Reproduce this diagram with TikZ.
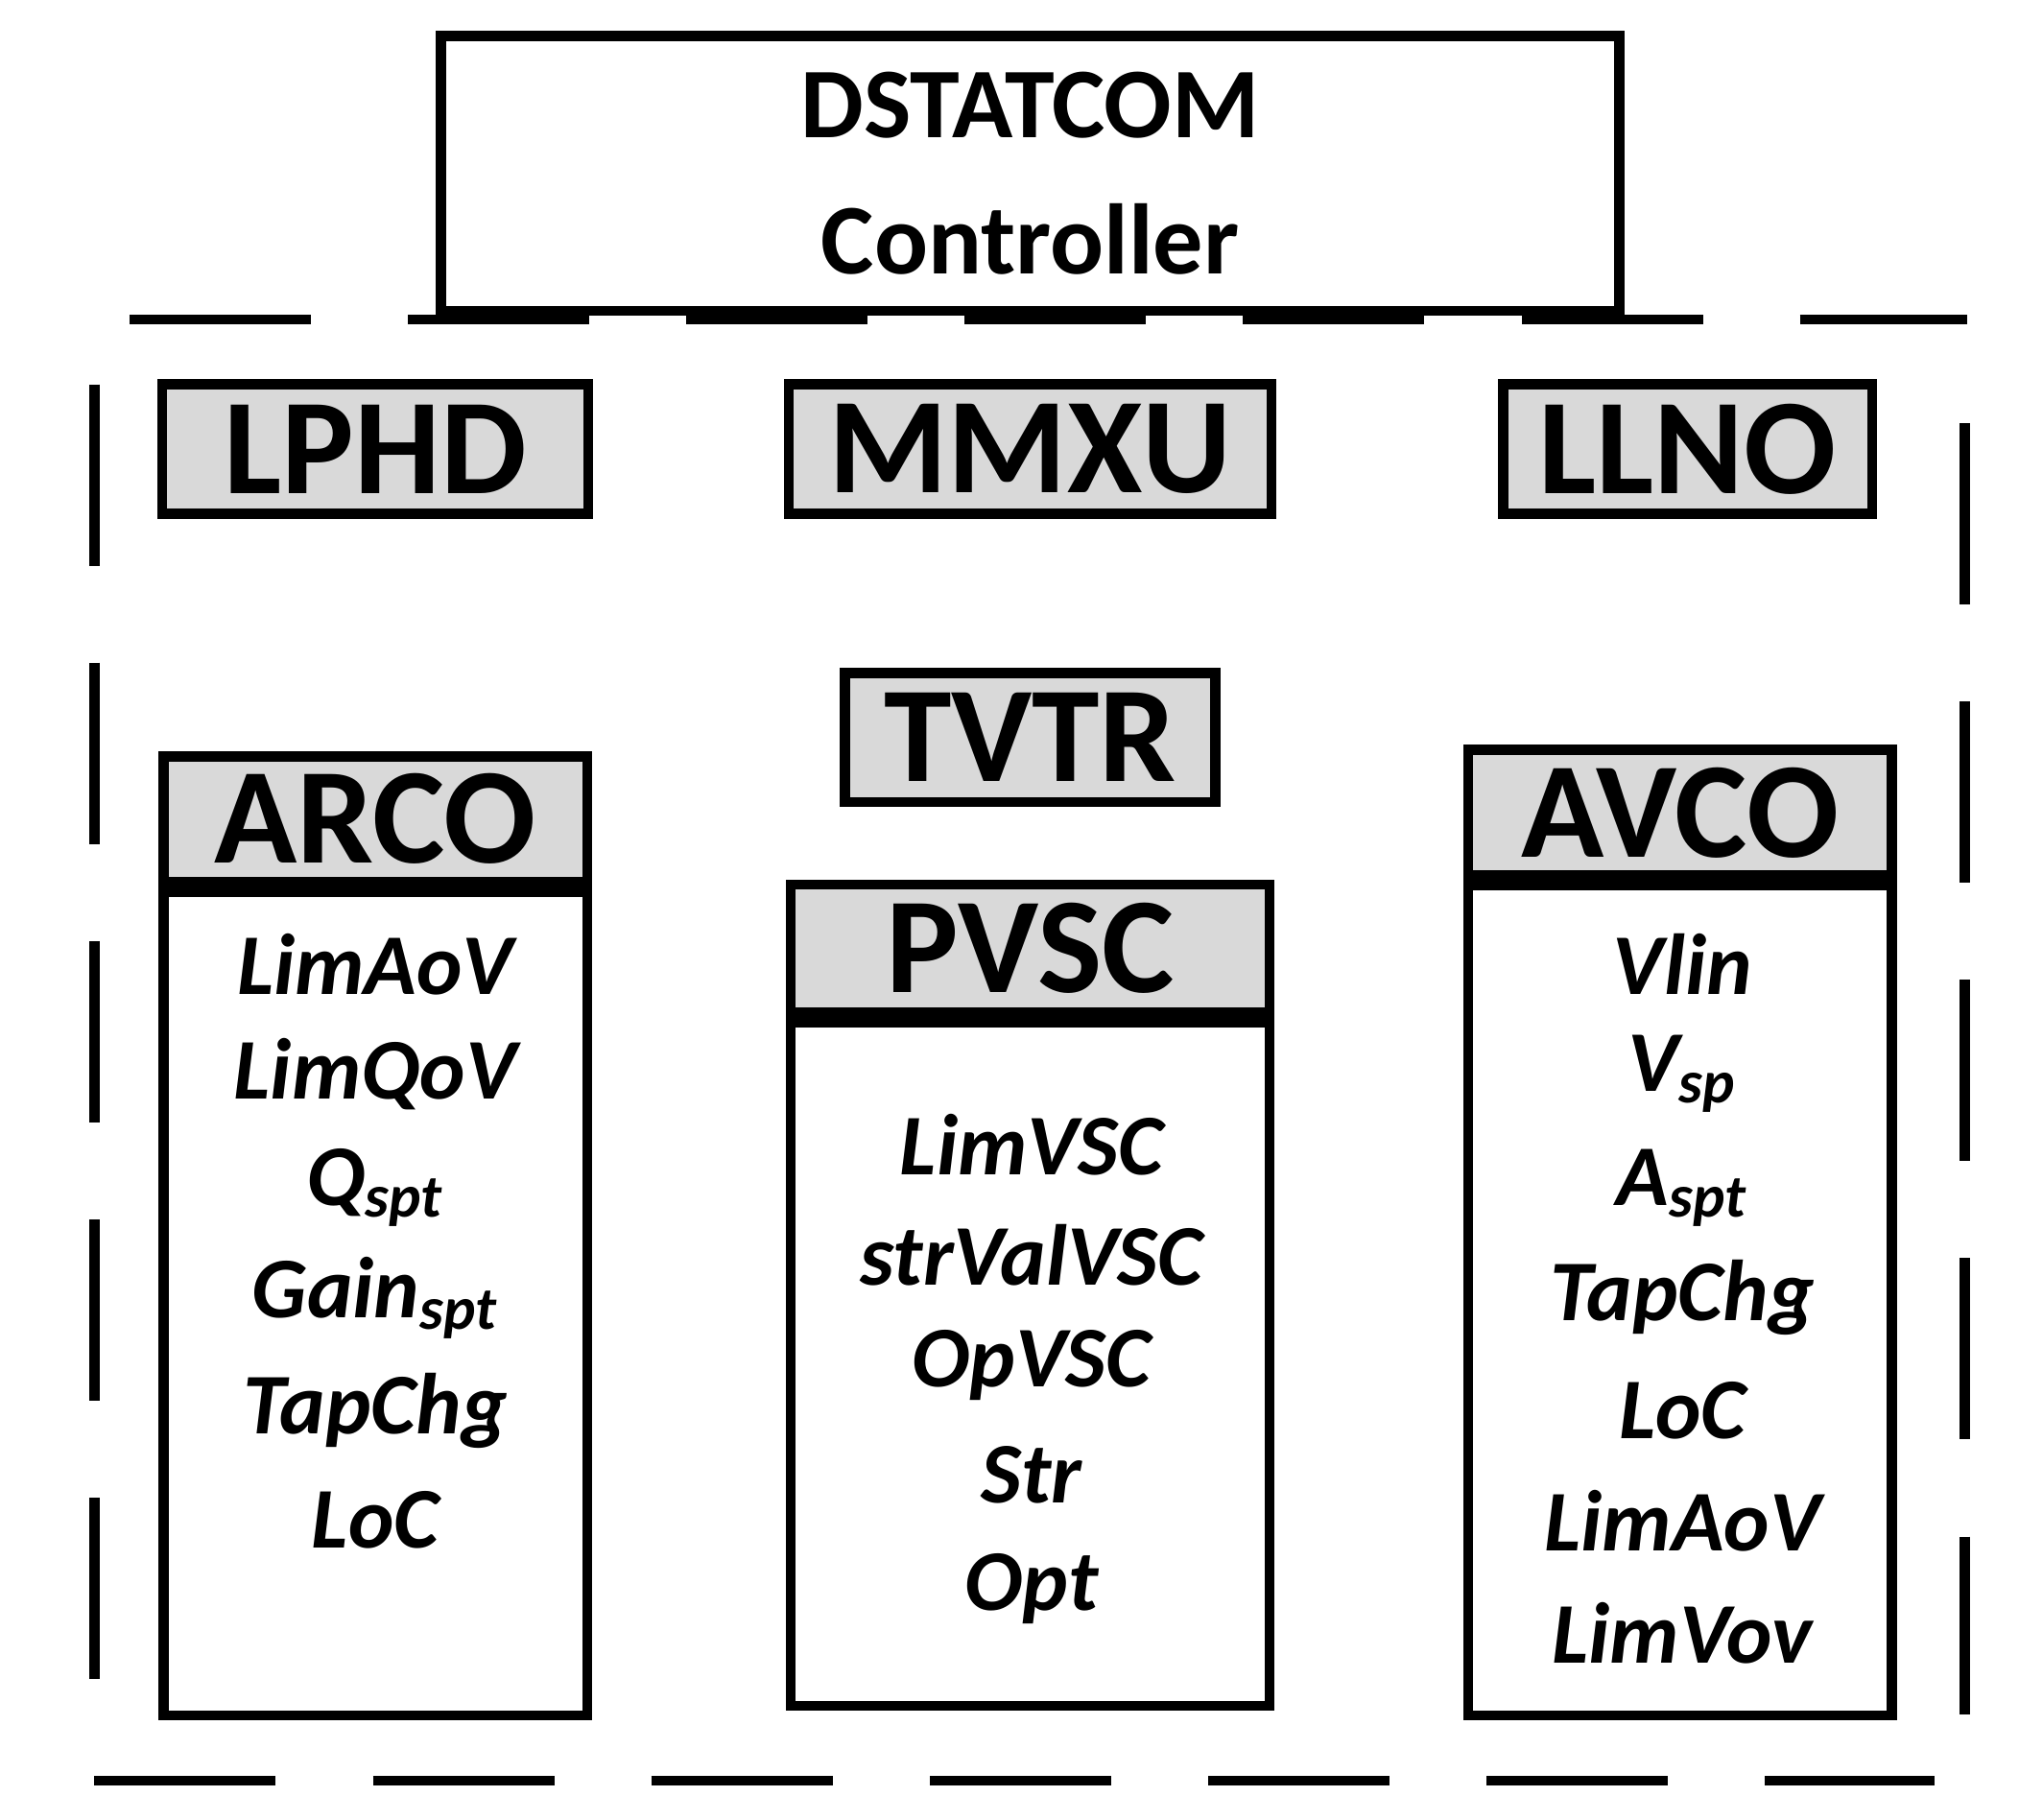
\documentclass[tikz,border=0pt]{standalone}
\usepackage{fontspec}
\setmainfont{Carlito}
\usetikzlibrary{positioning}

\begin{document}
\begin{tikzpicture}[
    x=0.01cm,y=-0.01cm,
    box/.style={rectangle,draw=black,line width=2.2pt,inner sep=0pt},
    lnode/.style={box,fill=gray!30,font=\fontsize{30}{32}\selectfont\bfseries},
    item/.style={font=\fontsize{19}{21}\selectfont\bfseries\itshape,inner sep=0pt},
    frame/.style={line width=2.2pt,dash pattern=on 1.4cm off 0.75cm}
]
\useasboundingbox (0,0) rectangle (1560,1406);

% Controller
\node[box,minimum width=9.1cm,minimum height=2.12cm,align=center,font=\fontsize{22}{30}\selectfont\bfseries] (ctrl) at (796,134) {DSTATCOM\\Controller};

% Dashed frame
\coordinate (tl) at (100,247);
\coordinate (tr) at (1520,247);
\coordinate (lt) at (73,297);
\coordinate (lb) at (73,1300);
\coordinate (rt) at (1518,327);
\coordinate (rb) at (1518,1325);
\coordinate (bl) at (73,1376);
\coordinate (br) at (1495,1376);
\draw[frame] (tl) -- (tr);
\draw[frame] (lt) -- (lb);
\draw[frame] (rt) -- (rb);
\draw[frame] (bl) -- (br);

% Logical nodes
\node[lnode,minimum width=3.29cm,minimum height=1cm] (lphd) at (290,347) {LPHD};
\node[lnode,minimum width=3.73cm,minimum height=1cm] (mmxu) at (796,347) {MMXU};
\node[lnode,minimum width=2.85cm,minimum height=1cm] (llno) at (1304,347) {LLNO};
\node[lnode,minimum width=2.86cm,minimum height=1cm] (tvtr) at (796,570) {TVTR};

% ARCO
\node[lnode,minimum width=3.27cm,minimum height=0.97cm] (arco) at (290,633) {ARCO};
\node[box,minimum width=3.27cm,minimum height=6.36cm,below=0pt of arco] (arcobody) {};
\node[item] (a1) at (290,745) {LimAoV};
\node[item] (a2) at (290,830) {LimQoV};
\node[item] (a3) at (290,918) {Q\textsubscript{spt}};
\node[item] (a4) at (290,1003) {Gain\textsubscript{spt}};
\node[item] (a5) at (290,1090) {TapChg};
\node[item] (a6) at (290,1175) {LoC};

% PVSC
\node[lnode,minimum width=3.7cm,minimum height=0.99cm] (pvsc) at (796,733) {PVSC};
\node[box,minimum width=3.7cm,minimum height=5.28cm] (pvscbody) at (796,1054) {};
\node[item] (p1) at (797,885) {LimVSC};
\node[item] (p2) at (797,970) {strValVSC};
\node[item] (p3) at (797,1055) {OpVSC};
\node[item] (p4) at (797,1140) {Str};
\node[item] (p5) at (797,1228) {Opt};

% AVCO
\node[lnode,minimum width=3.27cm,minimum height=0.97cm] (avco) at (1298,628) {AVCO};
\node[box,minimum width=3.27cm,minimum height=6.41cm,below=0pt of avco] (avcobody) {};
\node[item] (v1) at (1300,745) {Vlin};
\node[item] (v2) at (1300,830) {V\textsubscript{sp}};
\node[item] (v3) at (1300,918) {A\textsubscript{spt}};
\node[item] (v4) at (1300,1003) {TapChg};
\node[item] (v5) at (1300,1090) {LoC};
\node[item] (v6) at (1300,1175) {LimAoV};
\node[item] (v7) at (1300,1262) {LimVov};
\end{tikzpicture}
\end{document}
